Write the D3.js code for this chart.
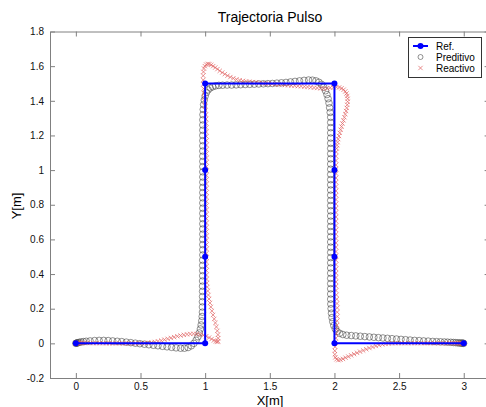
<!DOCTYPE html>
<html>
<head>
<meta charset="utf-8">
<script src="https://cdn.jsdelivr.net/npm/d3@7"></script>
<style>
    body { margin: 0; background: #fff; }
    text { font-family: Arial, "Liberation Sans", sans-serif; }
</style>
</head>
<body>
<div id="chart"></div>
<script>
// Trajectoria de referencia (pulso)
const refX = [0, 1, 1, 1, 1, 2, 2, 2, 2, 3];
const refY = [0, 0, 0.5, 1, 1.5, 1.5, 1, 0.5, 0, 0];

// Controlador preditivo (circulos)
const preditivo = [
    [0,0],[0.004,0.001],[0.009,0.002],[0.016,0.004],[0.026,0.006],[0.04,0.008],[0.058,0.01],[0.08,0.012],
    [0.11,0.014],[0.145,0.016],[0.18,0.017],[0.215,0.017],[0.25,0.016],[0.285,0.014],[0.32,0.012],[0.355,0.01],
    [0.39,0.007],[0.425,0.004],[0.46,0.001],[0.495,-0.002],[0.53,-0.005],[0.565,-0.008],[0.6,-0.011],[0.635,-0.014],
    [0.67,-0.017],[0.705,-0.02],[0.74,-0.023],[0.775,-0.026],[0.81,-0.028],[0.84,-0.028],[0.868,-0.024],[0.893,-0.014],
    [0.913,0],[0.93,0.018],[0.944,0.038],[0.955,0.06],[0.963,0.083],[0.969,0.106],[0.974,0.13],[0.977,0.155],
    [0.979,0.18],[0.979,0.21],[0.979,0.24],[0.98,0.27],[0.98,0.3],[0.98,0.33],[0.98,0.36],[0.981,0.39],
    [0.981,0.42],[0.981,0.45],[0.981,0.48],[0.982,0.51],[0.982,0.54],[0.982,0.57],[0.982,0.6],[0.982,0.63],
    [0.982,0.66],[0.982,0.69],[0.982,0.72],[0.982,0.75],[0.982,0.78],[0.982,0.81],[0.982,0.84],[0.982,0.87],
    [0.982,0.9],[0.982,0.93],[0.982,0.96],[0.982,0.99],[0.982,1.02],[0.982,1.05],[0.982,1.08],[0.982,1.11],
    [0.982,1.14],[0.982,1.17],[0.982,1.2],[0.982,1.23],[0.982,1.26],[0.982,1.29],[0.983,1.32],
    [0.985,1.35],[0.988,1.378],[0.993,1.404],[1.0,1.428],[1.01,1.448],[1.023,1.463],[1.039,1.474],[1.058,1.481],
    [1.08,1.486],[1.106,1.489],[1.135,1.49],
    [1.17,1.491],[1.205,1.491],[1.24,1.492],[1.275,1.493],[1.31,1.494],[1.345,1.495],[1.38,1.496],[1.415,1.497],
    [1.45,1.498],[1.485,1.499],[1.52,1.5],[1.555,1.502],[1.59,1.504],[1.625,1.506],[1.66,1.509],[1.695,1.512],
    [1.73,1.515],[1.765,1.518],[1.8,1.52],[1.83,1.519],[1.857,1.515],[1.88,1.507],[1.9,1.495],[1.917,1.478],
    [1.931,1.458],[1.942,1.436],[1.951,1.412],[1.958,1.387],[1.963,1.36],[1.967,1.333],
    [1.971,1.305],[1.971,1.275],[1.971,1.245],[1.971,1.215],[1.971,1.185],[1.971,1.155],[1.971,1.125],[1.971,1.095],
    [1.971,1.065],[1.971,1.035],[1.971,1.005],[1.971,0.975],[1.971,0.945],[1.971,0.915],[1.971,0.885],[1.971,0.855],
    [1.971,0.825],[1.971,0.795],[1.971,0.765],[1.971,0.735],[1.971,0.705],[1.971,0.675],[1.971,0.645],[1.971,0.615],
    [1.971,0.585],[1.971,0.555],[1.971,0.525],[1.971,0.495],[1.971,0.465],[1.971,0.435],[1.971,0.405],[1.971,0.375],
    [1.971,0.345],[1.971,0.315],[1.971,0.285],[1.971,0.255],
    [1.972,0.227],[1.974,0.2],[1.977,0.174],[1.981,0.149],[1.987,0.125],[1.995,0.103],[2.006,0.084],[2.02,0.069],
    [2.04,0.058],[2.065,0.051],[2.095,0.047],[2.13,0.045],[2.165,0.043],[2.2,0.041],[2.235,0.039],[2.27,0.037],
    [2.305,0.035],[2.34,0.033],[2.375,0.031],[2.41,0.029],[2.445,0.027],[2.48,0.025],[2.515,0.023],[2.55,0.021],
    [2.585,0.019],[2.62,0.017],[2.655,0.016],[2.69,0.014],[2.725,0.013],[2.76,0.011],[2.79,0.01],[2.82,0.009],
    [2.85,0.008],[2.875,0.007],[2.9,0.006],[2.92,0.005],[2.938,0.004],[2.954,0.003],[2.967,0.002],[2.978,0.002],
    [2.987,0.001],[2.994,0.001],[2.999,0]
];

// Controlador reactivo (cruces)
const reactivo = [
    [0,0],[0.002,0.001],[0.005,0.001],[0.009,0.002],[0.015,0.002],[0.023,0.002],[0.034,0.002],[0.048,0.002],
    [0.065,0.002],[0.085,0.002],[0.11,0.002],[0.135,0.001],[0.16,0.001],[0.185,0.001],[0.21,0.001],[0.235,0],
    [0.26,0],[0.285,0],[0.31,0],[0.335,0],[0.36,0],[0.385,0],[0.41,0],[0.435,0],
    [0.46,0],[0.485,0.001],[0.51,0.001],[0.535,0.002],[0.56,0.003],[0.585,0.005],[0.61,0.008],[0.635,0.012],
    [0.66,0.016],[0.685,0.021],[0.71,0.026],[0.735,0.031],[0.76,0.036],[0.785,0.041],[0.81,0.045],[0.835,0.049],
    [0.86,0.052],[0.885,0.054],[0.91,0.055],[0.935,0.054],[0.96,0.051],[0.985,0.047],[1.008,0.041],[1.03,0.033],
    [1.05,0.025],[1.068,0.017],[1.083,0.011],[1.095,0.008],
    [1.1,0.012],[1.101,0.03],[1.099,0.05],[1.094,0.072],[1.087,0.095],[1.079,0.118],[1.07,0.141],[1.061,0.164],
    [1.052,0.187],[1.044,0.21],[1.037,0.233],[1.03,0.256],[1.025,0.279],[1.02,0.302],[1.016,0.325],[1.013,0.348],
    [1.011,0.371],
    [1.01,0.395],[1.01,0.42],[1.01,0.445],[1.01,0.47],[1.01,0.495],[1.01,0.52],[1.01,0.545],[1.01,0.57],
    [1.01,0.595],[1.01,0.62],[1.01,0.645],[1.01,0.67],[1.01,0.695],[1.01,0.72],[1.01,0.745],[1.01,0.77],
    [1.01,0.795],[1.01,0.82],[1.01,0.845],[1.01,0.87],[1.01,0.895],[1.01,0.92],[1.01,0.945],[1.01,0.97],
    [1.01,0.995],[1.01,1.02],[1.01,1.045],[1.01,1.07],[1.01,1.095],[1.01,1.12],[1.01,1.145],[1.01,1.17],
    [1.009,1.195],[1.009,1.22],[1.008,1.245],[1.008,1.27],[1.007,1.295],
    [1.006,1.32],[1.003,1.345],[1.0,1.37],[0.997,1.395],[0.994,1.42],[0.991,1.445],[0.988,1.47],[0.986,1.495],
    [0.985,1.52],[0.985,1.545],[0.987,1.567],[0.991,1.586],[0.998,1.6],[1.008,1.609],[1.02,1.613],[1.033,1.612],
    [1.047,1.607],[1.062,1.6],[1.078,1.592],[1.095,1.583],[1.113,1.573],[1.132,1.563],[1.152,1.554],[1.173,1.545],
    [1.195,1.537],[1.218,1.53],[1.242,1.524],[1.267,1.519],[1.292,1.515],
    [1.317,1.512],[1.342,1.51],[1.367,1.508],[1.392,1.506],[1.417,1.504],[1.442,1.502],[1.467,1.5],[1.492,1.499],
    [1.517,1.497],[1.542,1.496],[1.567,1.494],[1.592,1.493],[1.617,1.491],[1.642,1.49],[1.667,1.488],[1.692,1.487],
    [1.717,1.485],[1.742,1.484],[1.767,1.482],[1.792,1.48],[1.817,1.478],[1.842,1.476],[1.867,1.474],[1.892,1.472],
    [1.917,1.471],[1.942,1.472],[1.967,1.475],[1.992,1.478],[2.015,1.479],[2.036,1.477],[2.055,1.472],[2.071,1.464],
    [2.084,1.454],[2.093,1.442],[2.099,1.428],[2.102,1.412],[2.102,1.395],[2.099,1.377],[2.095,1.359],[2.09,1.341],
    [2.084,1.323],[2.077,1.305],[2.07,1.287],[2.062,1.269],[2.055,1.251],[2.048,1.233],[2.041,1.215],[2.035,1.197],
    [2.029,1.179],[2.024,1.161],[2.02,1.143],[2.017,1.125],[2.014,1.105],
    [2.012,1.08],[2.012,1.055],[2.012,1.03],[2.012,1.005],[2.012,0.98],[2.012,0.955],[2.012,0.93],[2.012,0.905],
    [2.012,0.88],[2.012,0.855],[2.012,0.83],[2.012,0.805],[2.012,0.78],[2.012,0.755],[2.012,0.73],[2.012,0.705],
    [2.012,0.68],[2.012,0.655],[2.012,0.63],[2.012,0.605],[2.012,0.58],[2.012,0.555],[2.012,0.53],[2.012,0.505],
    [2.012,0.48],[2.012,0.455],[2.012,0.43],[2.012,0.405],[2.012,0.38],[2.012,0.355],[2.012,0.33],
    [2.012,0.305],[2.015,0.28],[2.018,0.255],[2.02,0.23],[2.022,0.205],[2.022,0.18],[2.022,0.155],[2.021,0.13],
    [2.019,0.105],[2.017,0.08],[2.014,0.055],[2.011,0.03],[2.008,0.005],[2.005,-0.02],[2.003,-0.043],[2.003,-0.064],
    [2.007,-0.081],[2.016,-0.092],[2.03,-0.097],[2.047,-0.095],[2.066,-0.09],[2.086,-0.083],[2.107,-0.076],[2.129,-0.069],
    [2.152,-0.062],[2.175,-0.055],[2.198,-0.048],[2.222,-0.041],[2.246,-0.034],[2.27,-0.027],[2.295,-0.021],[2.32,-0.015],
    [2.345,-0.01],[2.37,-0.006],[2.395,-0.003],[2.42,-0.001],
    [2.445,0],[2.47,0.001],[2.495,0.001],[2.52,0.001],[2.545,0.001],[2.57,0.001],[2.595,0.001],[2.62,0.001],
    [2.645,0.001],[2.67,0.001],[2.695,0.001],[2.72,0.001],[2.745,0.001],[2.77,0.001],[2.795,0.001],[2.82,0.001],
    [2.845,0.001],[2.87,0.001],[2.89,0.001],[2.91,0.001],[2.928,0.001],[2.944,0.001],[2.958,0.001],[2.97,0],
    [2.98,0],[2.988,0],[2.994,0],[2.998,0],[3.0,0]
];

// Eixos
const xTicks = [0, 0.5, 1, 1.5, 2, 2.5, 3];
const yTicks = [-0.2, 0, 0.2, 0.4, 0.6, 0.8, 1, 1.2, 1.4, 1.6, 1.8];
const legendLabels = ['Ref.', 'Preditivo', 'Reactivo'];

let width = 486;
let height = 407;
let mLeft = 50, mRight = 489.6, mTop = 31.5, mBottom = 378;

let svg = d3.select('#chart')
    .append('svg')
    .attr('width', width)
    .attr('height', height);

let x = d3.scaleLinear().domain([-0.2, 3.2]).range([mLeft, mRight]);
let y = d3.scaleLinear().domain([-0.2, 1.8]).range([mBottom, mTop]);

const axisColor = '#808080';
const fmt = d => String(d);

// Caixa dos eixos (estilo matlab, ticks para dentro)
svg.append('g')
    .attr('transform', `translate(0,${mBottom})`)
    .call(d3.axisBottom(x).tickValues(xTicks).tickFormat(fmt).tickSizeInner(-5).tickSizeOuter(0).tickPadding(5));
svg.append('g')
    .attr('transform', `translate(0,${mTop})`)
    .call(d3.axisTop(x).tickValues(xTicks).tickFormat('').tickSizeInner(-5).tickSizeOuter(0));
svg.append('g')
    .attr('transform', `translate(${mLeft},0)`)
    .call(d3.axisLeft(y).tickValues(yTicks).tickFormat(fmt).tickSizeInner(-5).tickSizeOuter(0).tickPadding(6));
svg.append('g')
    .attr('transform', `translate(${mRight},0)`)
    .call(d3.axisRight(y).tickValues(yTicks).tickFormat('').tickSizeInner(-5).tickSizeOuter(0));

svg.selectAll('.domain').attr('stroke', axisColor).attr('stroke-width', 1);
svg.selectAll('.tick line').attr('stroke', axisColor);
svg.selectAll('.tick text').attr('fill', '#111').style('font-size', '10px').style('font-family', 'Arial, "Liberation Sans", sans-serif');

// Preditivo
svg.append('g')
    .selectAll('circle')
    .data(preditivo)
    .enter()
    .append('circle')
    .attr('cx', d => x(d[0]))
    .attr('cy', d => y(d[1]))
    .attr('r', 3.3)
    .attr('fill', 'none')
    .attr('stroke', '#4a4a4a')
    .attr('stroke-width', 0.6);

// Reactivo
const cross = d3.symbol().type(d3.symbolTimes).size(14);
svg.append('g')
    .selectAll('path')
    .data(reactivo)
    .enter()
    .append('path')
    .attr('d', cross)
    .attr('transform', d => `translate(${x(d[0])},${y(d[1])})`)
    .attr('fill', 'none')
    .attr('stroke', '#e06060')
    .attr('stroke-width', 0.7);

// Referencia
let refPts = refX.map((v, i) => [v, refY[i]]);
svg.append('path')
    .datum(refPts)
    .attr('d', d3.line().x(d => x(d[0])).y(d => y(d[1])))
    .attr('fill', 'none')
    .attr('stroke', '#0000ff')
    .attr('stroke-width', 2);
svg.append('g')
    .selectAll('circle')
    .data(refPts)
    .enter()
    .append('circle')
    .attr('cx', d => x(d[0]))
    .attr('cy', d => y(d[1]))
    .attr('r', 3)
    .attr('fill', '#0000ff');

// Titulos
svg.append('text')
    .attr('x', 270).attr('y', 22)
    .attr('text-anchor', 'middle')
    .style('font-size', '14px')
    .text('Trajectoria Pulso');
svg.append('text')
    .attr('x', 270).attr('y', 405)
    .attr('text-anchor', 'middle')
    .style('font-size', '13px')
    .text('X[m]');
svg.append('text')
    .attr('transform', 'translate(21,206) rotate(-90)')
    .attr('text-anchor', 'middle')
    .style('font-size', '13px')
    .text('Y[m]');

// Legenda
let lg = svg.append('g');
lg.append('rect')
    .attr('x', 408.5).attr('y', 37.5)
    .attr('width', 73).attr('height', 40)
    .attr('fill', '#fff')
    .attr('stroke', '#333')
    .attr('stroke-width', 1);
const rowY = [46, 57, 68];
lg.append('line')
    .attr('x1', 413).attr('x2', 428).attr('y1', rowY[0]).attr('y2', rowY[0])
    .attr('stroke', '#0000ff').attr('stroke-width', 2);
lg.append('circle')
    .attr('cx', 420.5).attr('cy', rowY[0]).attr('r', 3).attr('fill', '#0000ff');
lg.append('circle')
    .attr('cx', 420.5).attr('cy', rowY[1]).attr('r', 2.5)
    .attr('fill', 'none').attr('stroke', '#4a4a4a').attr('stroke-width', 0.6);
lg.append('path')
    .attr('d', cross)
    .attr('transform', `translate(420.5,${rowY[2]})`)
    .attr('fill', 'none').attr('stroke', '#e06060').attr('stroke-width', 0.7);
lg.selectAll('.lbl')
    .data(legendLabels)
    .enter()
    .append('text')
    .attr('x', 436)
    .attr('y', (d, i) => rowY[i] + 3.5)
    .style('font-size', '10px')
    .text(d => d);
</script>
</body>
</html>
